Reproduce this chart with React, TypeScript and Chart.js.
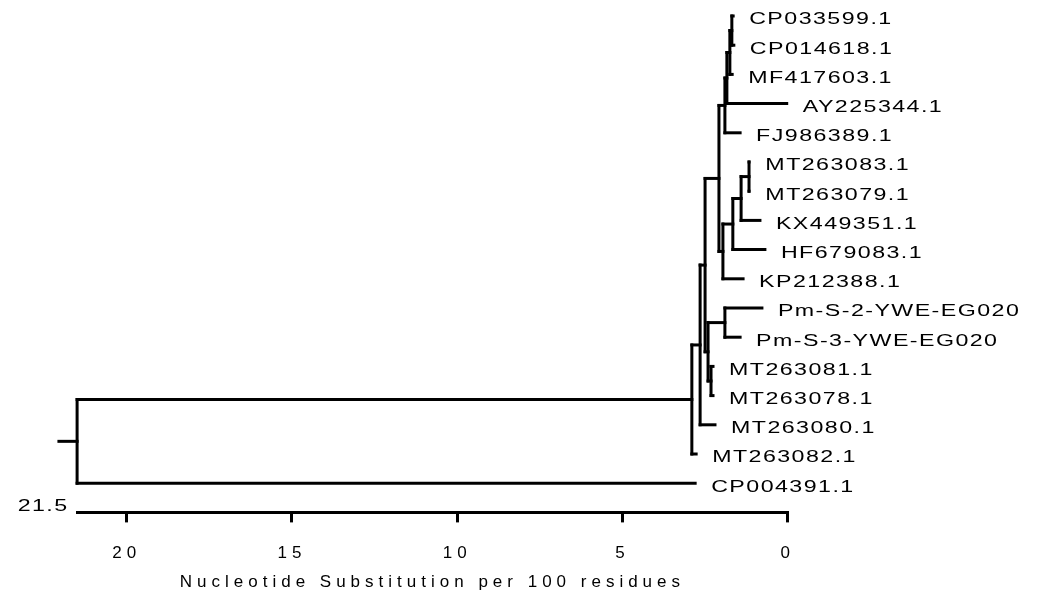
import React, { useEffect, useRef } from "react";
import { Chart, registerables } from "chart.js";

Chart.register(...registerables);

// ---- data ----
const LEAF_NAMES = [
  "CP033599.1",
  "CP014618.1",
  "MF417603.1",
  "AY225344.1",
  "FJ986389.1",
  "MT263083.1",
  "MT263079.1",
  "KX449351.1",
  "HF679083.1",
  "KP212388.1",
  "Pm-S-2-YWE-EG020",
  "Pm-S-3-YWE-EG020",
  "MT263081.1",
  "MT263078.1",
  "MT263080.1",
  "MT263082.1",
  "CP004391.1",
];
// distance of each tip (substitutions per 100 residues, measured from the right)
const LEAF_DIST = [1.65, 1.63, 1.68, 0.03, 1.44, 1.16, 1.16, 0.84, 0.69, 1.35, 0.78, 1.44, 2.26, 2.26, 2.2, 2.77, 2.8];

const NODE_IDS = ["n1", "x", "s", "e", "g3", "g2", "g1", "f", "h", "p", "r", "k", "c", "b", "a", "root"];
const NODE_DIST = [1.69, 1.75, 1.84, 1.9, 1.17, 1.41, 1.66, 1.96, 2.08, 1.9, 2.32, 2.41, 2.5, 2.65, 2.9, 21.5];
const NODE_CHILDREN = [
  ["CP033599.1", "CP014618.1"],
  ["n1", "MF417603.1"],
  ["x", "AY225344.1"],
  ["s", "FJ986389.1"],
  ["MT263083.1", "MT263079.1"],
  ["g3", "KX449351.1"],
  ["g2", "HF679083.1"],
  ["g1", "KP212388.1"],
  ["e", "f"],
  ["Pm-S-2-YWE-EG020", "Pm-S-3-YWE-EG020"],
  ["MT263081.1", "MT263078.1"],
  ["p", "r"],
  ["h", "k"],
  ["c", "MT263080.1"],
  ["b", "MT263082.1"],
  ["a", "CP004391.1"],
];
const ROOT_STUB = 0.55;
const X_MAX = 21.5;
const X_TICKS = [0, 5, 10, 15, 20];
const AXIS_TITLE = "Nucleotide Substitution per 100 residues";
const MAX_LABEL = "21.5";

const FONT_FAMILY = '"Liberation Sans", Arial, Helvetica, sans-serif';
const AXIS_FONT_SIZE = 17;
const LABEL_FONT_SIZE = 16;
const LABEL_STRETCH = 1.45;

type P = { x: number; y: number };

function buildSegments(): P[][] {
  const leafIndex = new Map(LEAF_NAMES.map((n, i) => [n, i] as [string, number]));
  const nodeIndex = new Map(NODE_IDS.map((n, i) => [n, i] as [string, number]));
  const cache = new Map<string, P>();
  const pos = (ref: string): P => {
    if (cache.has(ref)) return cache.get(ref)!;
    let p: P;
    if (leafIndex.has(ref)) {
      const i = leafIndex.get(ref)!;
      p = { x: LEAF_DIST[i], y: i };
    } else {
      const k = nodeIndex.get(ref)!;
      const ch = NODE_CHILDREN[k].map(pos);
      p = { x: NODE_DIST[k], y: (ch[0].y + ch[ch.length - 1].y) / 2 };
    }
    cache.set(ref, p);
    return p;
  };
  const segs: P[][] = [];
  NODE_IDS.forEach((id, k) => {
    const np = pos(id);
    const ch = NODE_CHILDREN[k].map(pos);
    segs.push([
      { x: np.x, y: ch[0].y },
      { x: np.x, y: ch[ch.length - 1].y },
    ]);
    ch.forEach((c) => {
      segs.push([
        { x: np.x, y: c.y },
        { x: c.x, y: c.y },
      ]);
    });
  });
  const root = pos("root");
  segs.push([
    { x: root.x + ROOT_STUB, y: root.y },
    { x: root.x, y: root.y },
  ]);
  return segs;
}

const spacingPlugin = {
  id: "spacing",
  beforeDraw(chart: any) {
    (chart.ctx as any).letterSpacing = "5px";
  },
  afterDraw(chart: any) {
    (chart.ctx as any).letterSpacing = "0px";
  },
};

function stretchedText(ctx: CanvasRenderingContext2D, text: string, x: number, y: number, align: CanvasTextAlign) {
  ctx.save();
  ctx.translate(x, y);
  ctx.scale(LABEL_STRETCH, 1);
  ctx.textAlign = align;
  ctx.fillText(text, 0, 0);
  ctx.restore();
}

const labelsPlugin = {
  id: "leafLabels",
  afterDatasetsDraw(chart: any) {
    const ctx = chart.ctx as CanvasRenderingContext2D;
    const xs = chart.scales.x;
    const ys = chart.scales.y;
    ctx.save();
    (ctx as any).letterSpacing = "1px";
    ctx.font = `${LABEL_FONT_SIZE}px ${FONT_FAMILY}`;
    ctx.fillStyle = "#000";
    ctx.textBaseline = "middle";
    LEAF_NAMES.forEach((name, i) => {
      const px = xs.getPixelForValue(LEAF_DIST[i]) + 16;
      const py = ys.getPixelForValue(i) + 4;
      stretchedText(ctx, name, px, py, "left");
    });
    stretchedText(ctx, MAX_LABEL, xs.getPixelForValue(X_MAX) - 8.5, chart.chartArea.bottom - 6, "right");
    ctx.restore();
  },
};

export default function App() {
  const ref = useRef<HTMLCanvasElement | null>(null);
  useEffect(() => {
    if (!ref.current) return;
    const segs = buildSegments();
    const chart = new Chart(ref.current, {
      type: "scatter",
      data: {
        datasets: segs.map((s) => ({
          data: s,
          showLine: true,
          borderColor: "#000",
          borderWidth: 3,
          borderCapStyle: "square" as const,
          pointRadius: 0,
          pointHoverRadius: 0,
          clip: false as any,
        })),
      },
      options: {
        animation: false,
        responsive: false,
        events: [],
        layout: { padding: { left: 77.1, right: 268.3, top: 16, bottom: 0 } },
        plugins: { legend: { display: false }, tooltip: { enabled: false } },
        scales: {
          x: {
            type: "linear",
            reverse: true,
            min: 0,
            max: X_MAX,
            afterBuildTicks: (s: any) => {
              s.ticks = X_TICKS.map((v) => ({ value: v }));
            },
            afterFit: (s: any) => {
              s.height = 82.6;
            },
            grid: {
              display: true,
              drawOnChartArea: false,
              drawTicks: true,
              tickLength: 10,
              color: "#000",
              lineWidth: 3,
            },
            border: { display: true, color: "#000", width: 3 },
            ticks: {
              color: "#000",
              font: { family: FONT_FAMILY, size: AXIS_FONT_SIZE },
              padding: 21,
              maxRotation: 0,
              autoSkip: false,
            },
            title: {
              display: true,
              text: AXIS_TITLE,
              color: "#000",
              font: { family: FONT_FAMILY, size: AXIS_FONT_SIZE },
              padding: { top: 0, bottom: 2 },
            },
          },
          y: { type: "linear", reverse: true, min: 0, max: 17, display: false },
        },
      },
      plugins: [spacingPlugin, labelsPlugin],
    } as any);
    return () => chart.destroy();
  }, []);
  return (
    <div style={{ position: "absolute", left: 0, top: 0, width: 1056, height: 595, background: "#fff" }}>
      <canvas ref={ref} width={1056} height={595} style={{ display: "block" }} />
    </div>
  );
}
